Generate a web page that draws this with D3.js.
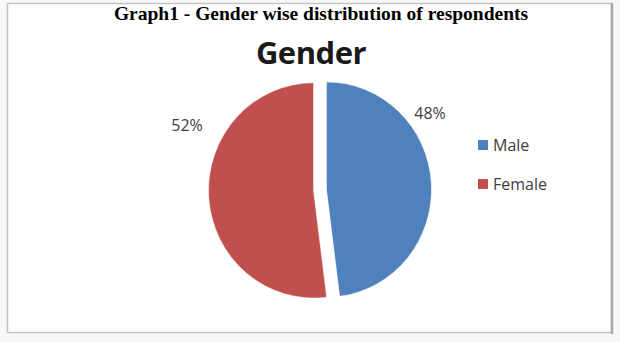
<!DOCTYPE html>
<html>
<head>
<meta charset="utf-8">
<script src="https://d3js.org/d3.v7.min.js"></script>
<style>
	body { margin:0; background:#f7f7f7; }
	svg { display:block; }
</style>
</head>
<body>
<svg id="chart" width="620" height="342"></svg>
<script>
	// data
	var categories = ["Male", "Female"];
	var shares = [48, 52];
	var colours = ["#4f81bd", "#c0504d"];
	var pctLabels = ["48%", "52%"];

	var svg = d3.select("#chart");

	// frame
	svg.append("rect")
		.attr("x", 7.5).attr("y", 3.5)
		.attr("width", 604).attr("height", 329)
		.attr("fill", "#fff")
		.attr("stroke", "#c4c4c4").attr("stroke-width", 1.5);
	svg.append("line")
		.attr("x1", 612).attr("x2", 612).attr("y1", 3).attr("y2", 334)
		.attr("stroke", "#a8a8a8").attr("stroke-width", 2.5);

	svg.append("text")
		.attr("x", 321).attr("y", 20)
		.attr("text-anchor", "middle")
		.style("font-family", "'Liberation Serif', serif")
		.style("font-weight", "bold")
		.style("font-size", "19.5px")
		.text("Graph1 - Gender wise distribution of respondents");

	svg.append("text")
		.attr("x", 311).attr("y", 64)
		.attr("text-anchor", "middle")
		.style("font-family", "'Open Sans', sans-serif")
		.style("font-weight", "bold")
		.style("font-size", "31px")
		.style("letter-spacing", "-0.5px")
		.attr("fill", "#1a1a1a")
		.text("Gender");

	// pie
	var cx = 320, cy = 190, r = 105, explode = 6.5;
	var pie = d3.pie().sort(null).value(function(d){ return d; });
	var arc = d3.arc().innerRadius(0).outerRadius(r);
	var arcs = pie(shares);

	var g = svg.append("g").attr("transform", "translate(" + cx + "," + cy + ") scale(1,1.025)");
	g.selectAll("path").data(arcs).enter().append("path")
		.attr("d", arc)
		.attr("fill", function(d, i){ return colours[i]; })
		.attr("stroke", "#fff").attr("stroke-width", 0.5)
		.attr("transform", function(d){
			var a = (d.startAngle + d.endAngle) / 2;
			return "translate(" + (Math.sin(a) * explode) + "," + (-Math.cos(a) * explode) + ")";
		});

	// percentage labels outside the slices
	var labelPos = [[430, 119], [187, 131]];
	svg.selectAll("text.pct").data(arcs).enter().append("text")
		.attr("class", "pct")
		.attr("x", function(d, i){ return labelPos[i][0]; })
		.attr("y", function(d, i){ return labelPos[i][1]; })
		.attr("text-anchor", "middle")
		.style("font-family", "'Open Sans', sans-serif")
		.style("font-size", "16px")
		.attr("fill", "#404040")
		.text(function(d, i){ return pctLabels[i]; });

	// legend
	var legend = svg.append("g").attr("transform", "translate(478,140)");
	var item = legend.selectAll("g").data(categories).enter().append("g")
		.attr("transform", function(d, i){ return "translate(0," + (i * 39) + ")"; });
	item.append("rect")
		.attr("width", 10).attr("height", 10)
		.attr("fill", function(d, i){ return colours[i]; });
	item.append("text")
		.attr("x", 15).attr("y", 11)
		.style("font-family", "'Open Sans', sans-serif")
		.style("font-size", "16px")
		.attr("fill", "#404040")
		.text(function(d){ return d; });
</script>
</body>
</html>
